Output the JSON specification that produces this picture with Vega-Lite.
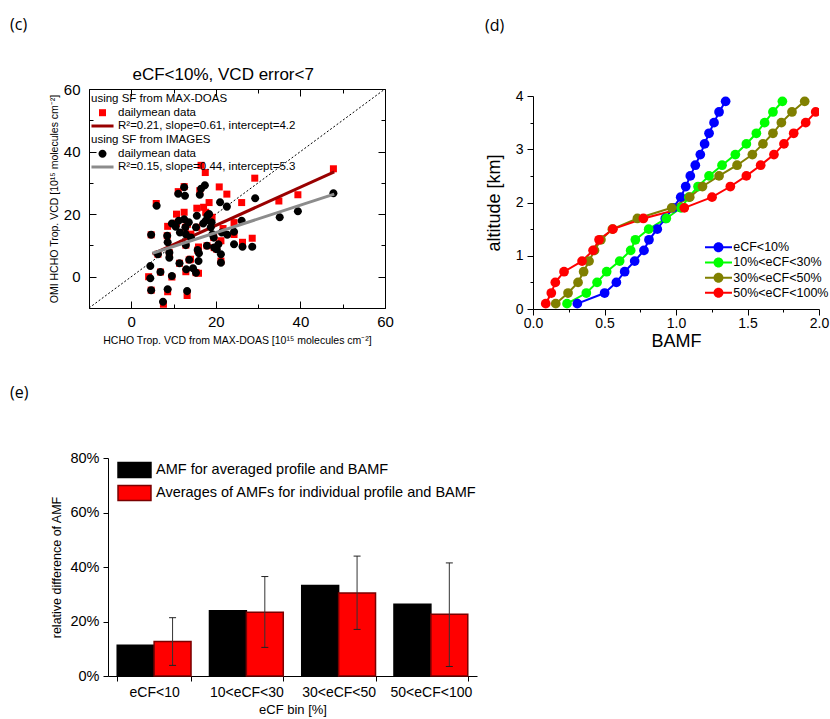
{
  "$schema": "https://vega.github.io/schema/vega-lite/v6.json",
  "padding": {"left": 10, "top": 16, "right": 5, "bottom": 5},
  "background": "white",
  "config": {
    "font": "Liberation Sans",
    "view": {"stroke": null},
    "axis": {"domainColor": "#000", "tickColor": "#000", "labelColor": "#000", "titleColor": "#000", "grid": false, "titleFontWeight": "normal", "labelFont": "Liberation Sans", "titleFont": "Liberation Sans", "labelOverlap": false, "labelFlush": false, "tickWidth": 1, "domainWidth": 1},
    "legend": {"labelFont": "Liberation Sans", "titleFont": "Liberation Sans", "titleFontWeight": "normal", "labelColor": "#000", "titleColor": "#000", "labelLimit": 400},
    "title": {"font": "Open Sans", "fontWeight": "normal", "fontSize": 16, "anchor": "start", "frame": "group", "color": "#000", "baseline": "bottom"}
  },
  "resolve": {"scale": {"color": "independent", "shape": "independent", "stroke": "independent"}},
  "spacing": 35,
  "vconcat": [
    {
      "spacing": 91,
      "resolve": {"scale": {"color": "independent", "shape": "independent"}},
      "hconcat": [
        {
          "width": 296,
          "height": 219,
          "title": {"text": "(c)", "dx": -79, "offset": 33},
          "resolve": {"scale": {"color": "independent", "shape": "independent"}, "axis": {"x": "independent", "y": "independent"}},
          "layer": [
            {
              "data": {"values": [{"x": -10, "y": -10}, {"x": 60, "y": 60}]},
              "mark": {"type": "line", "color": "#000", "strokeWidth": 1, "strokeDash": [2, 2], "clip": true},
              "encoding": {
                "x": {"field": "x", "type": "quantitative", "scale": {"domain": [-10, 60], "nice": false, "zero": false},
                  "axis": {"orient": "bottom", "values": [-10, 0, 10, 20, 30, 40, 50, 60],
                    "labelExpr": "datum.value % 20 === 0 ? datum.label : ''",
                    "tickSize": {"condition": {"test": "datum.value % 20 === 0", "value": -7}, "value": -4},
                    "labelFontSize": 15, "labelPadding": 13,
                    "title": "HCHO Trop. VCD from MAX-DOAS [10¹⁵ molecules cm⁻²]", "titleFontSize": 10.5, "titlePadding": 3}},
                "y": {"field": "y", "type": "quantitative", "scale": {"domain": [-10, 60], "nice": false, "zero": false},
                  "axis": {"orient": "left", "values": [-10, 0, 10, 20, 30, 40, 50, 60],
                    "labelExpr": "datum.value % 20 === 0 ? datum.label : ''",
                    "tickSize": {"condition": {"test": "datum.value % 20 === 0", "value": -7}, "value": -4},
                    "labelFontSize": 15, "labelPadding": 16,
                    "title": "OMI HCHO Trop. VCD [10¹⁵ molecules cm⁻²]", "titleFontSize": 10.5, "titlePadding": 4}}
              }
            },
            {
              "data": {"values": [{"x": -10, "y": -10}, {"x": 60, "y": 60}]},
              "mark": {"type": "line", "opacity": 0, "clip": true},
              "encoding": {
                "x": {"field": "x", "type": "quantitative",
                  "axis": {"orient": "top", "labels": false, "values": [-10, 0, 10, 20, 30, 40, 50, 60],
                    "tickSize": {"condition": {"test": "datum.value % 20 === 0", "value": -7}, "value": -4},
                    "title": "eCF<10%, VCD error<7", "titleFontSize": 17, "titleX": 43, "titleAlign": "left", "titleAnchor": "start", "titlePadding": 5}},
                "y": {"field": "y", "type": "quantitative",
                  "axis": {"orient": "right", "labels": false, "values": [-10, 0, 10, 20, 30, 40, 50, 60],
                    "tickSize": {"condition": {"test": "datum.value % 20 === 0", "value": -7}, "value": -4}, "title": null}}
              }
            },
            {
              "layer": [
                {
                  "data": {"values": [
                    {"x": 4.1, "y": 0.0}, {"x": 4.7, "y": -4.3}, {"x": 4.7, "y": 13.4}, {"x": 5.9, "y": 23.4}, {"x": 6.3, "y": 7.2},
                    {"x": 6.9, "y": 1.5}, {"x": 7.6, "y": -8.8}, {"x": 8.5, "y": 13.1}, {"x": 8.6, "y": 16.1}, {"x": 8.6, "y": -4.8},
                    {"x": 9.0, "y": 7.7}, {"x": 9.6, "y": -0.1}, {"x": 10.7, "y": 20.0}, {"x": 10.7, "y": 17.1}, {"x": 11.1, "y": 27.2},
                    {"x": 11.4, "y": 4.3}, {"x": 12.5, "y": 28.8}, {"x": 12.5, "y": 20.6}, {"x": 12.8, "y": 15.8}, {"x": 12.9, "y": 10.1},
                    {"x": 12.9, "y": 1.6}, {"x": 13.2, "y": -6.0}, {"x": 13.3, "y": 16.8}, {"x": 13.7, "y": 5.4}, {"x": 14.0, "y": 5.6},
                    {"x": 14.1, "y": 13.6}, {"x": 15.3, "y": 1.3}, {"x": 15.5, "y": 21.9}, {"x": 15.5, "y": 15.8}, {"x": 15.7, "y": 8.5},
                    {"x": 15.9, "y": 9.5}, {"x": 15.9, "y": 1.1}, {"x": 16.2, "y": 27.5}, {"x": 16.5, "y": 35.6}, {"x": 17.1, "y": 22.2},
                    {"x": 17.5, "y": 33.3}, {"x": 17.6, "y": 20.6}, {"x": 17.9, "y": 9.9}, {"x": 18.4, "y": 23.7}, {"x": 19.1, "y": 19.0},
                    {"x": 19.5, "y": 12.5}, {"x": 19.6, "y": 9.3}, {"x": 20.2, "y": 8.8}, {"x": 20.8, "y": 28.7}, {"x": 21.2, "y": 5.0},
                    {"x": 21.2, "y": 11.5}, {"x": 21.7, "y": 15.4}, {"x": 22.6, "y": 26.4}, {"x": 24.3, "y": 17.3}, {"x": 24.3, "y": 13.5},
                    {"x": 26.1, "y": 23.7}, {"x": 26.3, "y": 11.0}, {"x": 28.6, "y": 12.3}, {"x": 29.2, "y": 31.5}, {"x": 34.9, "y": 24.2},
                    {"x": 39.4, "y": 26.2}, {"x": 47.8, "y": 34.5}
                  ]},
                  "mark": {"type": "point", "filled": true, "opacity": 1, "size": 132, "clip": true},
                  "encoding": {
                    "x": {"field": "x", "type": "quantitative", "axis": null},
                    "y": {"field": "y", "type": "quantitative", "axis": null},
                    "color": {"datum": "dailymean data",
                      "scale": {"domain": ["dailymean data", "R²=0.21, slope=0.61, intercept=4.2"], "range": ["#ff0000", "#990000"]},
                      "legend": {"title": "using SF from MAX-DOAS", "orient": "none", "legendX": 2, "legendY": 4, "padding": 0,
                        "titleFontSize": 11.5, "titlePadding": 2.2, "labelFontSize": 11.5, "rowPadding": 1.3, "labelOffset": 9.5, "symbolOffset": 5.5, "symbolSize": 132, "symbolStrokeWidth": 0}},
                    "shape": {"datum": "dailymean data",
                      "scale": {"domain": ["dailymean data", "R²=0.21, slope=0.61, intercept=4.2"], "range": ["M-0.61,-0.61H0.61V0.61H-0.61Z", "M-1.92,-0.26H1.92V0.26H-1.92Z"]},
                      "legend": {"title": "using SF from MAX-DOAS", "orient": "none", "legendX": 2, "legendY": 4, "padding": 0,
                        "titleFontSize": 11.5, "titlePadding": 2.2, "labelFontSize": 11.5, "rowPadding": 1.3, "labelOffset": 9.5, "symbolOffset": 5.5, "symbolSize": 132, "symbolStrokeWidth": 0}}
                  }
                },
                {
                  "data": {"values": [{"x": 5, "y": 7.25}, {"x": 48, "y": 33.5}]},
                  "mark": {"type": "line", "strokeWidth": 3, "clip": true},
                  "encoding": {
                    "x": {"field": "x", "type": "quantitative", "axis": null},
                    "y": {"field": "y", "type": "quantitative", "axis": null},
                    "color": {"datum": "R²=0.21, slope=0.61, intercept=4.2"}
                  }
                }
              ]
            },
            {
              "layer": [
                {
                  "data": {"values": [
                    {"x": 4.7, "y": 13.4}, {"x": 4.5, "y": 3.4}, {"x": 4.5, "y": -0.5}, {"x": 4.7, "y": -4.3}, {"x": 6.0, "y": 22.7},
                    {"x": 6.3, "y": 7.2}, {"x": 6.9, "y": 1.5}, {"x": 7.5, "y": -8.0}, {"x": 8.5, "y": 13.1}, {"x": 8.6, "y": 11.0},
                    {"x": 9.0, "y": 7.7}, {"x": 9.0, "y": 6.1}, {"x": 8.6, "y": -4.0}, {"x": 9.6, "y": 0.2}, {"x": 9.6, "y": 17.0},
                    {"x": 10.5, "y": 16.0}, {"x": 11.1, "y": 26.5}, {"x": 11.2, "y": 17.9}, {"x": 11.5, "y": 14.1}, {"x": 11.4, "y": 4.3},
                    {"x": 12.5, "y": 28.6}, {"x": 12.7, "y": 25.9}, {"x": 12.5, "y": 18.4}, {"x": 12.8, "y": 15.8}, {"x": 12.9, "y": 13.6},
                    {"x": 12.9, "y": 10.1}, {"x": 13.0, "y": 2.4}, {"x": 13.2, "y": -4.6}, {"x": 13.6, "y": 17.4}, {"x": 13.7, "y": 5.4},
                    {"x": 14.1, "y": 12.5}, {"x": 14.6, "y": 2.7}, {"x": 15.3, "y": 1.3}, {"x": 15.5, "y": 19.5}, {"x": 15.3, "y": 15.8},
                    {"x": 15.7, "y": 8.5}, {"x": 15.9, "y": 5.0}, {"x": 16.0, "y": 7.5}, {"x": 16.2, "y": 26.2}, {"x": 16.5, "y": 28.1},
                    {"x": 17.0, "y": 17.0}, {"x": 17.4, "y": 29.2}, {"x": 17.6, "y": 17.9}, {"x": 17.9, "y": 9.9}, {"x": 18.0, "y": 19.5},
                    {"x": 18.4, "y": 20.0}, {"x": 18.8, "y": 15.8}, {"x": 19.0, "y": 17.4}, {"x": 19.2, "y": 13.6}, {"x": 19.5, "y": 12.5},
                    {"x": 19.6, "y": 9.3}, {"x": 20.2, "y": 8.8}, {"x": 20.6, "y": 10.4}, {"x": 21.0, "y": 23.8}, {"x": 21.2, "y": 4.5},
                    {"x": 21.2, "y": 7.2}, {"x": 21.4, "y": 14.1}, {"x": 22.6, "y": 22.4}, {"x": 22.7, "y": 13.4}, {"x": 24.3, "y": 14.4},
                    {"x": 24.3, "y": 10.4}, {"x": 26.1, "y": 17.9}, {"x": 26.3, "y": 9.6}, {"x": 28.6, "y": 9.6}, {"x": 29.3, "y": 25.1},
                    {"x": 35.1, "y": 19.0}, {"x": 39.4, "y": 20.9}, {"x": 47.8, "y": 26.7}
                  ]},
                  "mark": {"type": "point", "filled": true, "opacity": 1, "size": 132, "clip": true},
                  "encoding": {
                    "x": {"field": "x", "type": "quantitative", "axis": null},
                    "y": {"field": "y", "type": "quantitative", "axis": null},
                    "color": {"datum": "dailymean data",
                      "scale": {"domain": ["dailymean data", "R²=0.15, slope=0.44, intercept=5.3"], "range": ["#000000", "#8c8c8c"]},
                      "legend": {"title": "using SF from IMAGES", "orient": "none", "legendX": 2, "legendY": 45, "padding": 0,
                        "titleFontSize": 11.5, "titlePadding": 2.2, "labelFontSize": 11.5, "rowPadding": 1.3, "labelOffset": 9.5, "symbolOffset": 5.5, "symbolSize": 132, "symbolStrokeWidth": 0}},
                    "shape": {"datum": "dailymean data",
                      "scale": {"domain": ["dailymean data", "R²=0.15, slope=0.44, intercept=5.3"], "range": ["M0.7,0A0.7,0.7 0 1 1 -0.7,0A0.7,0.7 0 1 1 0.7,0Z", "M-1.92,-0.26H1.92V0.26H-1.92Z"]},
                      "legend": {"title": "using SF from IMAGES", "orient": "none", "legendX": 2, "legendY": 45, "padding": 0,
                        "titleFontSize": 11.5, "titlePadding": 2.2, "labelFontSize": 11.5, "rowPadding": 1.3, "labelOffset": 9.5, "symbolOffset": 5.5, "symbolSize": 132, "symbolStrokeWidth": 0}}
                  }
                },
                {
                  "data": {"values": [{"x": 5, "y": 7.5}, {"x": 48, "y": 26.4}]},
                  "mark": {"type": "line", "strokeWidth": 3, "clip": true},
                  "encoding": {
                    "x": {"field": "x", "type": "quantitative", "axis": null},
                    "y": {"field": "y", "type": "quantitative", "axis": null},
                    "color": {"datum": "R²=0.15, slope=0.44, intercept=5.3"}
                  }
                }
              ]
            }
          ]
        },
        {
          "width": 286,
          "height": 220,
          "title": {"text": "(d)", "dx": -48, "offset": 55},
          "data": {"values": [
            {"s": "eCF<10%", "alt": 0.1, "bamf": 0.310}, {"s": "eCF<10%", "alt": 0.3, "bamf": 0.501}, {"s": "eCF<10%", "alt": 0.5, "bamf": 0.583},
            {"s": "eCF<10%", "alt": 0.7, "bamf": 0.641}, {"s": "eCF<10%", "alt": 0.9, "bamf": 0.711}, {"s": "eCF<10%", "alt": 1.1, "bamf": 0.776},
            {"s": "eCF<10%", "alt": 1.3, "bamf": 0.811}, {"s": "eCF<10%", "alt": 1.5, "bamf": 0.869}, {"s": "eCF<10%", "alt": 1.7, "bamf": 0.925},
            {"s": "eCF<10%", "alt": 1.9, "bamf": 0.980}, {"s": "eCF<10%", "alt": 2.1, "bamf": 1.033}, {"s": "eCF<10%", "alt": 2.3, "bamf": 1.068},
            {"s": "eCF<10%", "alt": 2.5, "bamf": 1.100}, {"s": "eCF<10%", "alt": 2.7, "bamf": 1.135}, {"s": "eCF<10%", "alt": 2.9, "bamf": 1.170},
            {"s": "eCF<10%", "alt": 3.1, "bamf": 1.200}, {"s": "eCF<10%", "alt": 3.3, "bamf": 1.231}, {"s": "eCF<10%", "alt": 3.5, "bamf": 1.266},
            {"s": "eCF<10%", "alt": 3.7, "bamf": 1.301}, {"s": "eCF<10%", "alt": 3.9, "bamf": 1.347},
            {"s": "10%<eCF<30%", "alt": 0.1, "bamf": 0.238}, {"s": "10%<eCF<30%", "alt": 0.3, "bamf": 0.373}, {"s": "10%<eCF<30%", "alt": 0.5, "bamf": 0.448},
            {"s": "10%<eCF<30%", "alt": 0.7, "bamf": 0.515}, {"s": "10%<eCF<30%", "alt": 0.9, "bamf": 0.606}, {"s": "10%<eCF<30%", "alt": 1.1, "bamf": 0.683},
            {"s": "10%<eCF<30%", "alt": 1.3, "bamf": 0.716}, {"s": "10%<eCF<30%", "alt": 1.5, "bamf": 0.809}, {"s": "10%<eCF<30%", "alt": 1.7, "bamf": 0.932},
            {"s": "10%<eCF<30%", "alt": 1.9, "bamf": 1.035}, {"s": "10%<eCF<30%", "alt": 2.1, "bamf": 1.090}, {"s": "10%<eCF<30%", "alt": 2.3, "bamf": 1.154},
            {"s": "10%<eCF<30%", "alt": 2.5, "bamf": 1.231}, {"s": "10%<eCF<30%", "alt": 2.7, "bamf": 1.322}, {"s": "10%<eCF<30%", "alt": 2.9, "bamf": 1.415},
            {"s": "10%<eCF<30%", "alt": 3.1, "bamf": 1.492}, {"s": "10%<eCF<30%", "alt": 3.3, "bamf": 1.562}, {"s": "10%<eCF<30%", "alt": 3.5, "bamf": 1.620},
            {"s": "10%<eCF<30%", "alt": 3.7, "bamf": 1.678}, {"s": "10%<eCF<30%", "alt": 3.9, "bamf": 1.744},
            {"s": "30%<eCF<50%", "alt": 0.1, "bamf": 0.159}, {"s": "30%<eCF<50%", "alt": 0.3, "bamf": 0.245}, {"s": "30%<eCF<50%", "alt": 0.5, "bamf": 0.315},
            {"s": "30%<eCF<50%", "alt": 0.7, "bamf": 0.354}, {"s": "30%<eCF<50%", "alt": 0.9, "bamf": 0.392}, {"s": "30%<eCF<50%", "alt": 1.1, "bamf": 0.430},
            {"s": "30%<eCF<50%", "alt": 1.3, "bamf": 0.475}, {"s": "30%<eCF<50%", "alt": 1.5, "bamf": 0.555}, {"s": "30%<eCF<50%", "alt": 1.7, "bamf": 0.730},
            {"s": "30%<eCF<50%", "alt": 1.9, "bamf": 0.970}, {"s": "30%<eCF<50%", "alt": 2.1, "bamf": 1.096}, {"s": "30%<eCF<50%", "alt": 2.3, "bamf": 1.185},
            {"s": "30%<eCF<50%", "alt": 2.5, "bamf": 1.301}, {"s": "30%<eCF<50%", "alt": 2.7, "bamf": 1.427}, {"s": "30%<eCF<50%", "alt": 2.9, "bamf": 1.534},
            {"s": "30%<eCF<50%", "alt": 3.1, "bamf": 1.608}, {"s": "30%<eCF<50%", "alt": 3.3, "bamf": 1.678}, {"s": "30%<eCF<50%", "alt": 3.5, "bamf": 1.737},
            {"s": "30%<eCF<50%", "alt": 3.7, "bamf": 1.811}, {"s": "30%<eCF<50%", "alt": 3.9, "bamf": 1.900},
            {"s": "50%<eCF<100%", "alt": 0.1, "bamf": 0.089}, {"s": "50%<eCF<100%", "alt": 0.3, "bamf": 0.128}, {"s": "50%<eCF<100%", "alt": 0.5, "bamf": 0.156},
            {"s": "50%<eCF<100%", "alt": 0.7, "bamf": 0.217}, {"s": "50%<eCF<100%", "alt": 0.9, "bamf": 0.343}, {"s": "50%<eCF<100%", "alt": 1.1, "bamf": 0.420},
            {"s": "50%<eCF<100%", "alt": 1.3, "bamf": 0.462}, {"s": "50%<eCF<100%", "alt": 1.5, "bamf": 0.559}, {"s": "50%<eCF<100%", "alt": 1.7, "bamf": 0.772},
            {"s": "50%<eCF<100%", "alt": 1.9, "bamf": 1.058}, {"s": "50%<eCF<100%", "alt": 2.1, "bamf": 1.252}, {"s": "50%<eCF<100%", "alt": 2.3, "bamf": 1.380},
            {"s": "50%<eCF<100%", "alt": 2.5, "bamf": 1.492}, {"s": "50%<eCF<100%", "alt": 2.7, "bamf": 1.592}, {"s": "50%<eCF<100%", "alt": 2.9, "bamf": 1.685},
            {"s": "50%<eCF<100%", "alt": 3.1, "bamf": 1.755}, {"s": "50%<eCF<100%", "alt": 3.3, "bamf": 1.823}, {"s": "50%<eCF<100%", "alt": 3.5, "bamf": 1.907},
            {"s": "50%<eCF<100%", "alt": 3.7, "bamf": 1.977}, {"s": "50%<eCF<100%", "alt": 3.9, "bamf": 2.06}
          ]},
          "encoding": {
            "x": {"field": "bamf", "type": "quantitative", "scale": {"domain": [0, 2], "nice": false, "zero": false},
              "axis": {"values": [0, 0.25, 0.5, 0.75, 1, 1.25, 1.5, 1.75, 2],
                "labelExpr": "datum.value % 0.5 === 0 ? format(datum.value, '.1f') : ''",
                "tickSize": {"condition": {"test": "datum.value % 0.5 === 0", "value": 6}, "value": 3},
                "labelFontSize": 14, "labelPadding": 1, "title": "BAMF", "titleFontSize": 18, "titlePadding": 2}},
            "y": {"field": "alt", "type": "quantitative", "scale": {"domain": [0, 4], "range": [220, 7], "nice": false, "zero": false},
              "axis": {"values": [0, 0.5, 1, 1.5, 2, 2.5, 3, 3.5, 4],
                "labelExpr": "datum.value % 1 === 0 ? format(datum.value, 'd') : ''",
                "tickSize": {"condition": {"test": "datum.value % 1 === 0", "value": 6}, "value": 3},
                "labelFontSize": 14, "labelPadding": 4, "title": "altitude [km]", "titleFontSize": 18, "titlePadding": 12}},
            "color": {"field": "s", "type": "nominal",
              "scale": {"domain": ["eCF<10%", "10%<eCF<30%", "30%<eCF<50%", "50%<eCF<100%"], "range": ["#0000ff", "#00ff00", "#808000", "#ff0000"]},
              "legend": {"title": null, "orient": "none", "legendX": 172, "legendY": 152, "padding": 0, "labelFontSize": 12.5, "rowPadding": 2.2,
                "labelOffset": 8.5, "symbolOffset": 7.25, "symbolSize": 144, "symbolStrokeWidth": 0,
                "symbolType": "M-2.25,-0.17H2.25V0.17H-2.25Z M0.83,0A0.83,0.83 0 1 1 -0.83,0A0.83,0.83 0 1 1 0.83,0Z",
                "encode": {"symbols": {"update": {
                  "fill": {"signal": "datum.value === 'eCF<10%' ? '#0000ff' : datum.value === '10%<eCF<30%' ? '#00ff00' : datum.value === '30%<eCF<50%' ? '#808000' : '#ff0000'"},
                  "opacity": {"value": 1}}}}}}
          },
          "layer": [
            {"mark": {"type": "line", "strokeWidth": 2, "clip": true}, "encoding": {"order": {"field": "alt", "type": "quantitative"}}},
            {"mark": {"type": "point", "filled": true, "opacity": 1, "size": 95, "clip": true}}
          ]
        }
      ]
    },
    {
      "width": 388,
      "height": 218,
      "title": {"text": "(e)", "dx": -79, "offset": 49},
      "data": {"values": [
        {"bin": "eCF<10", "type": "AMF for averaged profile and BAMF", "val": 0.113},
        {"bin": "eCF<10", "type": "Averages of AMFs for individual profile and BAMF", "val": 0.127, "lo": 0.039, "hi": 0.214},
        {"bin": "10<eCF<30", "type": "AMF for averaged profile and BAMF", "val": 0.239},
        {"bin": "10<eCF<30", "type": "Averages of AMFs for individual profile and BAMF", "val": 0.234, "lo": 0.105, "hi": 0.365},
        {"bin": "30<eCF<50", "type": "AMF for averaged profile and BAMF", "val": 0.332},
        {"bin": "30<eCF<50", "type": "Averages of AMFs for individual profile and BAMF", "val": 0.305, "lo": 0.171, "hi": 0.440},
        {"bin": "50<eCF<100", "type": "AMF for averaged profile and BAMF", "val": 0.263},
        {"bin": "50<eCF<100", "type": "Averages of AMFs for individual profile and BAMF", "val": 0.227, "lo": 0.035, "hi": 0.415}
      ]},
      "encoding": {
        "x": {"field": "bin", "type": "nominal", "sort": ["eCF<10", "10<eCF<30", "30<eCF<50", "50<eCF<100"],
          "scale": {"paddingInner": 0.2, "paddingOuter": 0.1, "range": [19, 388]},
          "axis": {"labelAngle": 0, "labelFontSize": 14, "labelPadding": 4, "tickBand": "extent", "tickSize": 5, "title": "eCF bin [%]", "titleFontSize": 13, "titlePadding": 4}},
        "xOffset": {"field": "type", "type": "nominal", "sort": ["AMF for averaged profile and BAMF", "Averages of AMFs for individual profile and BAMF"]}
      },
      "layer": [
        {
          "mark": {"type": "bar", "strokeWidth": 1.5},
          "encoding": {
            "y": {"field": "val", "type": "quantitative", "scale": {"domain": [0, 0.8], "nice": false},
              "axis": {"offset": -19, "values": [0, 0.1, 0.2, 0.3, 0.4, 0.5, 0.6, 0.7, 0.8],
                "labelExpr": "round(datum.value * 10) % 2 === 0 ? format(datum.value, '.0%') : ''",
                "tickSize": {"condition": {"test": "round(datum.value * 10) % 2 === 0", "value": 5}, "value": 3},
                "labelFontSize": 14.5, "labelPadding": 4, "title": "relative difference of AMF", "titleFontSize": 12.5, "titlePadding": 6}},
            "color": {"field": "type", "type": "nominal",
              "scale": {"domain": ["AMF for averaged profile and BAMF", "Averages of AMFs for individual profile and BAMF"], "range": ["#000000", "#ff0000"]},
              "legend": {"title": null, "orient": "top-left", "offset": 3, "padding": 0, "labelFontSize": 14.5, "labelOffset": 12.5, "rowPadding": 1, "symbolOffset": 33.5,
                "symbolType": "M-2.06,-0.95H2.06V0.95H-2.06Z", "symbolSize": 256, "symbolStrokeWidth": 1.5,
                "encode": {"symbols": {"update": {
                  "fill": {"signal": "datum.value === 'AMF for averaged profile and BAMF' ? '#000000' : '#ff0000'"},
                  "stroke": {"signal": "datum.value === 'AMF for averaged profile and BAMF' ? '#000000' : '#7a0000'"},
                  "opacity": {"value": 1}}}}}},
            "stroke": {"field": "type", "type": "nominal",
              "scale": {"domain": ["AMF for averaged profile and BAMF", "Averages of AMFs for individual profile and BAMF"], "range": ["#000000", "#7a0000"]},
              "legend": null}
          }
        },
        {
          "transform": [{"filter": "isValid(datum.lo)"}],
          "mark": {"type": "rule", "color": "#333333", "strokeWidth": 1},
          "encoding": {"y": {"field": "lo", "type": "quantitative"}, "y2": {"field": "hi"}}
        },
        {
          "transform": [{"filter": "isValid(datum.lo)"}],
          "mark": {"type": "tick", "color": "#222222", "thickness": 1, "size": 7, "opacity": 1},
          "encoding": {"y": {"field": "lo", "type": "quantitative"}}
        },
        {
          "transform": [{"filter": "isValid(datum.lo)"}],
          "mark": {"type": "tick", "color": "#222222", "thickness": 1, "size": 7, "opacity": 1},
          "encoding": {"y": {"field": "hi", "type": "quantitative"}}
        }
      ]
    }
  ]
}
